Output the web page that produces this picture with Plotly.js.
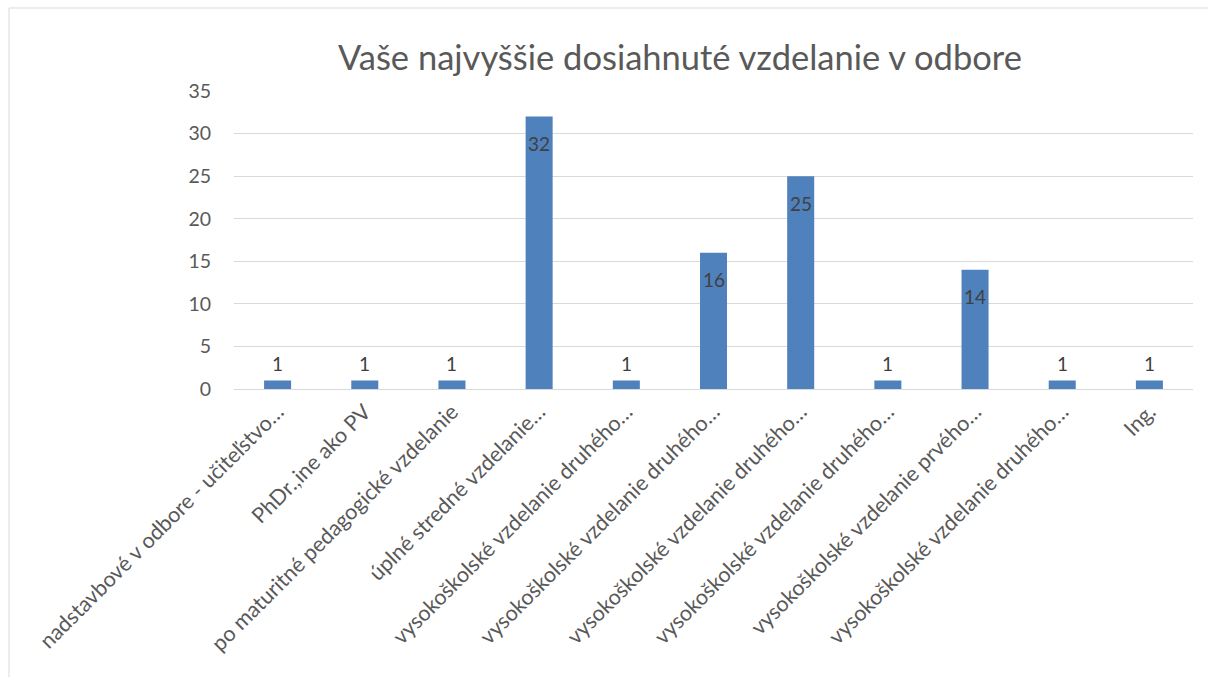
<!DOCTYPE html>
<html>
<head>
<meta charset="utf-8">
<script src="https://cdn.plot.ly/plotly-3.0.1.min.js"></script>
<style>html,body{margin:0;padding:0;background:#fff;}#chart{width:1208px;height:677px;}</style>
</head>
<body>
<div id="chart"></div>
<script>
const categories = [
  "nadstavbové v odbore - učiteľstvo…",
  "PhDr.,ine ako PV",
  "po maturitné pedagogické vzdelanie",
  "úplné stredné vzdelanie…",
  "vysokoškolské vzdelanie druhého…",
  "vysokoškolské vzdelanie druhého…",
  "vysokoškolské vzdelanie druhého…",
  "vysokoškolské vzdelanie druhého…",
  "vysokoškolské vzdelanie prvého…",
  "vysokoškolské vzdelanie druhého…",
  "Ing."
];
const values = [1, 1, 1, 32, 1, 16, 25, 1, 14, 1, 1];
const yTicks = [0, 5, 10, 15, 20, 25, 30, 35];

const positions = categories.map((_, i) => i);
const font = "Lato, 'Open Sans', sans-serif";

const trace = {
  type: "bar",
  x: positions,
  y: values,
  width: 0.31,
  marker: {color: "#4f81bd"},
  hoverinfo: "none"
};

const labelAnnotations = values.map((v, i) => ({
  x: positions[i],
  y: v,
  xref: "x",
  yref: "y",
  text: String(v),
  showarrow: false,
  xanchor: "center",
  yanchor: "middle",
  yshift: v >= 5 ? -27 : 17,
  font: {family: font, size: 19, color: "#404040"}
}));

const layout = {
  width: 1208,
  height: 677,
  margin: {l: 234, r: 15, t: 91, b: 288},
  paper_bgcolor: "#ffffff",
  plot_bgcolor: "#ffffff",
  showlegend: false,
  title: {
    text: "Vaše najvyššie dosiahnuté vzdelanie v odbore",
    font: {family: font, size: 34.5, color: "#595959"},
    xref: "paper",
    x: 0.465, xanchor: "center",
    y: 0.915, yanchor: "middle"
  },
  xaxis: {
    tickmode: "array",
    tickvals: positions,
    ticktext: categories,
    tickangle: -45,
    range: [-0.5, categories.length - 0.5],
    showgrid: false,
    zeroline: false,
    showline: false,
    ticks: "",
    ticklabelstandoff: 5,
    tickfont: {family: font, size: 21.5, color: "#595959"}
  },
  yaxis: {
    range: [0, 35],
    tickmode: "array",
    tickvals: yTicks,
    showgrid: true,
    gridcolor: "#d9d9d9",
    gridwidth: 1,
    zeroline: true,
    zerolinecolor: "#d9d9d9",
    zerolinewidth: 1,
    showline: false,
    ticks: "",
    ticklabelstandoff: 22,
    tickfont: {family: font, size: 19.5, color: "#595959"}
  },
  annotations: labelAnnotations,
  shapes: [{
    type: "rect", xref: "paper", yref: "paper",
    x0: (9 - 234) / 959, x1: 1.05,
    y0: -1.2, y1: (389 - 8) / 298,
    line: {color: "#d9d9d9", width: 1},
    fillcolor: "rgba(0,0,0,0)",
    layer: "below"
  }]
};

Plotly.newPlot("chart", [trace], layout, {displayModeBar: false, staticPlot: true});
</script>
</body>
</html>
